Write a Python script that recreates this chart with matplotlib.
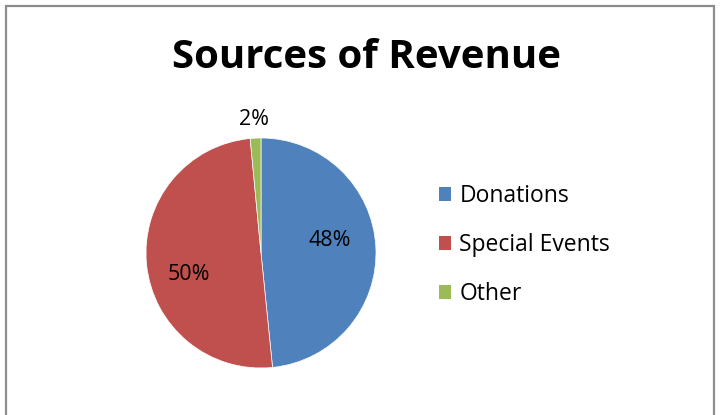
import matplotlib.pyplot as plt
from matplotlib.patches import Rectangle, Patch

categories = ['Donations', 'Special Events', 'Other']
values = [48.4, 50.1, 1.5]
colors = ['#4f81bd', '#c0504d', '#9bbb59']

plt.rcParams['font.family'] = ['Open Sans', 'DejaVu Sans']

fig = plt.figure(figsize=(7.21, 4.15), dpi=100)

# frame of the chart area
fig.patches.append(Rectangle((6 / 721, -0.1), 708 / 721, 1.1 - 6 / 415,
                             transform=fig.transFigure, fill=False,
                             edgecolor='#8c8c8c', linewidth=1.6))

ax = fig.add_axes([(261 - 115) / 721, (415 - 368) / 415, 230 / 721, 230 / 415])
wedges, texts, autotexts = ax.pie(values, colors=colors, startangle=90, counterclock=False,
                                  autopct='%.0f%%', pctdistance=0.64,
                                  textprops={'fontsize': 15.5, 'color': 'black'},
                                  wedgeprops={'edgecolor': 'white', 'linewidth': 0.5})
autotexts[2].set_position((-0.06, 1.16))
autotexts[0].set_position((0.6, 0.11))
autotexts[1].set_position((-0.63, -0.19))
ax.set_xlim(-1, 1)
ax.set_ylim(-1, 1)
ax.set_aspect('equal')

fig.text(367 / 721, 1 - 57 / 415, 'Sources of Revenue', ha='center', va='center',
         fontsize=29, fontweight='bold')

handles = [Patch(facecolor=c, edgecolor='none') for c in colors]
fig.legend(handles, categories, loc='center left', bbox_to_anchor=(418 / 721, 1 - 245 / 415),
           frameon=False, fontsize=16.5, handlelength=0.55, handleheight=0.55,
           handletextpad=0.35, labelspacing=1.08)

fig.savefig('out.png', dpi=100)
